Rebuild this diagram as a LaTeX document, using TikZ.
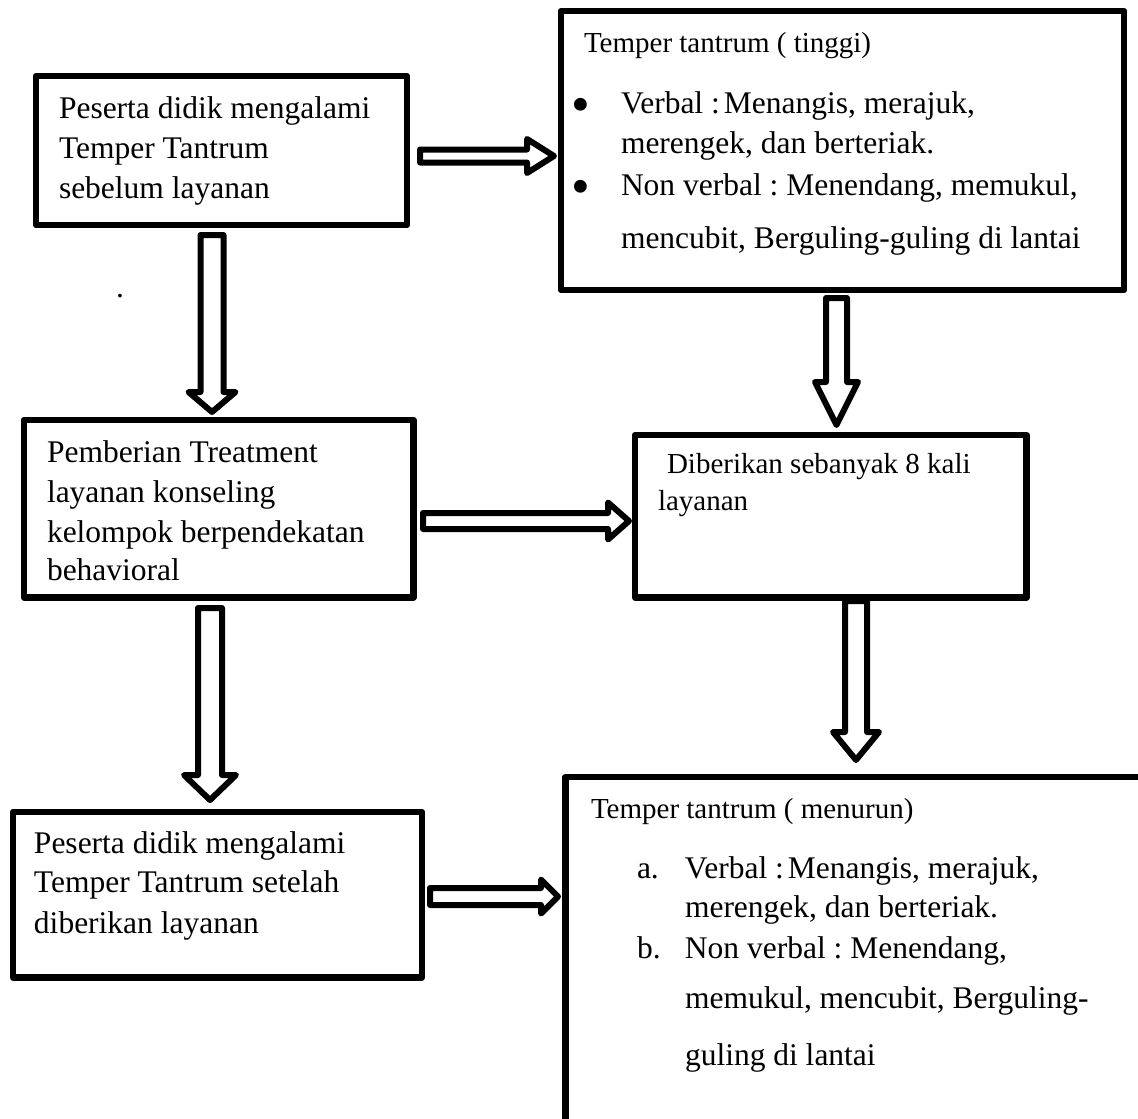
\documentclass[tikz,border=0pt]{standalone}
\usepackage{fontspec}
\setmainfont{Liberation Serif}
\usetikzlibrary{calc}
\frenchspacing
\tikzset{
  box/.style={draw, line width=6.5pt, line join=round, rectangle, inner sep=0pt, outer sep=0pt, anchor=north west},
  barrow/.style={draw, fill=white, line width=6pt, line join=round},
  txt/.style={anchor=base west, inner sep=0pt, outer sep=0pt},
}
\newcommand\BigBul{\makebox[47pt][l]{\hspace*{-3pt}\raisebox{-9.5pt}[0pt][0pt]{\scalebox{1.7}{\textbullet}}}}
% horizontal block arrow: #1 start, #2 tip, #3 shaft half, #4 head half, #5 head length
\newcommand\BlkArrowR[5]{%
  \draw[barrow] let \p1=(#1), \p2=(#2) in
    (\x1,\y1+#3pt) -- (\x2-#5pt,\y1+#3pt) -- (\x2-#5pt,\y1+#4pt) -- (\x2,\y1)
    -- (\x2-#5pt,\y1-#4pt) -- (\x2-#5pt,\y1-#3pt) -- (\x1,\y1-#3pt) -- cycle;}
% downward block arrow
\newcommand\BlkArrowD[5]{%
  \draw[barrow] let \p1=(#1), \p2=(#2) in
    (\x1-#3pt,\y1) -- (\x1-#3pt,\y2+#5pt) -- (\x1-#4pt,\y2+#5pt) -- (\x1,\y2)
    -- (\x1+#4pt,\y2+#5pt) -- (\x1+#3pt,\y2+#5pt) -- (\x1+#3pt,\y1) -- cycle;}
\begin{document}
\begin{tikzpicture}[x=1pt,y=-1pt]
\useasboundingbox (0,0) rectangle (1138,1119);
\fill[white] (0,0) rectangle (1138,1119);

% boxes
\node[box, minimum width=371pt, minimum height=149pt] (b1) at (36,76) {};
\node[box, minimum width=563pt, minimum height=279pt] (b2) at (561,11) {};
\node[box, minimum width=389.5pt, minimum height=177.5pt] (b3) at (24,420) {};
\node[box, minimum width=391.5pt, minimum height=162.5pt] (b4) at (635,435) {};
\node[box, minimum width=409pt, minimum height=165.5pt] (b5) at (13,812) {};
\node[box, minimum width=600pt, minimum height=370pt] (b6) at (565.5,777) {};

% texts
\node[txt] (t1) at (59,118) {\parbox[t]{360pt}{\fontsize{31.5}{40}\selectfont
Peserta didik mengalami\\Temper Tantrum\\sebelum layanan}};

\node[txt] (t2) at (574,52) {\parbox[t]{560pt}{\fontsize{31.5}{40}\selectfont
{\fontsize{29}{40}\selectfont\hspace*{10pt}Temper tantrum ( tinggi)}\\[21pt]
\BigBul Verbal :\hspace{4pt}Menangis, merajuk,\\
\hspace*{47pt}merengek, dan berteriak.\\[2pt]
\BigBul Non verbal : Menendang, memukul,\\[13pt]
\hspace*{47pt}mencubit, Berguling-guling di lantai}};

\node[txt] (dot) at (116,297) {\fontsize{31.5}{40}\selectfont .};

\node[txt] (t3) at (47,462) {\parbox[t]{380pt}{\fontsize{31.5}{40}\selectfont
Pemberian Treatment\\layanan konseling\\kelompok berpendekatan\\[-2pt]behavioral}};

\node[txt] (t4) at (658,473) {\parbox[t]{370pt}{\fontsize{29}{37}\selectfont
\hspace*{9pt}Diberikan sebanyak 8 kali\\layanan}};

\node[txt] (t5) at (34,853) {\parbox[t]{380pt}{\fontsize{31.5}{40}\selectfont
Peserta didik mengalami\\[-1pt]Temper Tantrum setelah\\[1pt]diberikan layanan}};

\node[txt] (t6) at (591,818) {\parbox[t]{560pt}{\fontsize{31.5}{40}\selectfont
{\fontsize{29}{40}\selectfont Temper tantrum ( menurun)}\\[20pt]
\hspace*{46pt}\makebox[48pt][l]{a.}Verbal :\hspace{4pt}Menangis, merajuk,\\[-1pt]
\hspace*{94pt}merengek, dan berteriak.\\[1pt]
\hspace*{46pt}\makebox[48pt][l]{b.}Non verbal : Menendang,\\[10pt]
\hspace*{94pt}memukul, mencubit, Berguling-\\[17pt]
\hspace*{94pt}guling di lantai}};

% connector end points
\coordinate (a1s) at ($(b1.east)+(13,5.5)$);
\coordinate (a1t) at ($(b2.west)+(-7,5.5)$);
\coordinate (a2s) at ($(b3.east)+(9.5,12.25)$);
\coordinate (a2t) at ($(b4.west)+(-6,5)$);
\coordinate (a3s) at ($(b5.east)+(8,1.75)$);
\coordinate (a3t) at ($(b6.north west)+(-7.5,119.5)$);
\coordinate (v1s) at ($(b1.south)+(-9.5,10)$);
\coordinate (v1t) at ($(b3.north)+(-6.75,-8)$);
\coordinate (v2s) at ($(b3.south)+(-8.75,10.5)$);
\coordinate (v2t) at ($(b5.north)+(-7.5,-12)$);
\coordinate (v3s) at ($(b2.south)+(-6,8)$);
\coordinate (v3t) at ($(b4.north)+(5.75,-10)$);
\coordinate (v4s) at ($(b4.south)+(25.25,3.5)$);
\coordinate (v4t) at ($(b6.north west)+(290.5,-17)$);

% block arrows
\BlkArrowR{a1s}{a1t}{6.5}{17}{27}
\BlkArrowR{a2s}{a2t}{8}{18.5}{21}
\BlkArrowR{a3s}{a3t}{8.5}{17}{17}
\BlkArrowD{v1s}{v1t}{11.5}{23.5}{20}
\BlkArrowD{v2s}{v2t}{12}{26}{25}
\BlkArrowD{v3s}{v3t}{10.5}{21.5}{43}
\BlkArrowD{v4s}{v4t}{11}{23}{28}
\end{tikzpicture}
\end{document}
